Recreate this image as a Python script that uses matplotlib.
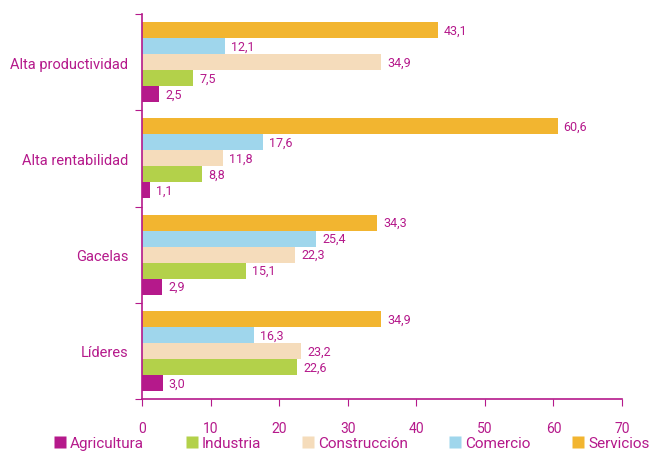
import matplotlib.pyplot as plt
from matplotlib.lines import Line2D
import numpy as np

plt.rcParams['font.family'] = ['Roboto', 'DejaVu Sans']

groups = ['Alta productividad', 'Alta rentabilidad', 'Gacelas', 'Líderes']
sectors = ['Agricultura', 'Industria', 'Construcción', 'Comercio', 'Servicios']
agricultura = [2.5, 1.1, 2.9, 3.0]
industria = [7.5, 8.8, 15.1, 22.6]
construccion = [34.9, 11.8, 22.3, 23.2]
comercio = [12.1, 17.6, 25.4, 16.3]
servicios = [43.1, 60.6, 34.3, 34.9]
colors = ['#b5198b', '#b3d14a', '#f5dcbb', '#9fd6ec', '#f2b530']
magenta = '#b5198b'

series = [agricultura, industria, construccion, comercio, servicios]

fig = plt.figure(figsize=(6.56, 4.52), dpi=100)
ax = fig.add_axes([142 / 656, 1 - 400 / 452, 480 / 656, 385 / 452])

h = 1 / 6
# group centers: top group at highest y
centers = np.arange(len(groups))[::-1] + 0.5
for i, (vals, col) in enumerate(zip(series, colors)):
    y = centers + (i - 2) * h
    ax.barh(y, vals, height=h, color=col, edgecolor='none')
    for yy, v in zip(y, vals):
        ax.text(v + 0.9, yy, f'{v:.1f}'.replace('.', ','), va='center', ha='left',
                color=magenta, fontsize=9)

ax.set_xlim(0, 70)
ax.set_ylim(0, len(groups))
ax.set_xticks(np.arange(0, 71, 10))
ax.set_yticks(np.arange(len(groups) + 1))
ax.set_yticklabels([])
ax.set_yticks(centers, minor=True)
ax.set_yticklabels(groups, minor=True)
ax.tick_params(axis='y', which='minor', length=0, pad=10, labelsize=10.5, labelcolor=magenta)
ax.tick_params(axis='y', which='major', length=5, color=magenta)
ax.tick_params(axis='x', length=5, color=magenta, labelcolor=magenta, labelsize=10, pad=11)
for s in ['top', 'right']:
    ax.spines[s].set_visible(False)
for s in ['left', 'bottom']:
    ax.spines[s].set_color(magenta)
    ax.spines[s].set_linewidth(1.2)

handles = [Line2D([], [], marker='s', linestyle='none', markersize=9,
                  markerfacecolor=c, markeredgecolor='none') for c in colors]
fig.legend(handles, sectors, loc='lower center', bbox_to_anchor=(0.535, -0.028), ncol=5,
           frameon=False, fontsize=11, labelcolor=magenta, handletextpad=0.15,
           columnspacing=2.6, handlelength=1.0)

fig.savefig('out.png', dpi=100)
